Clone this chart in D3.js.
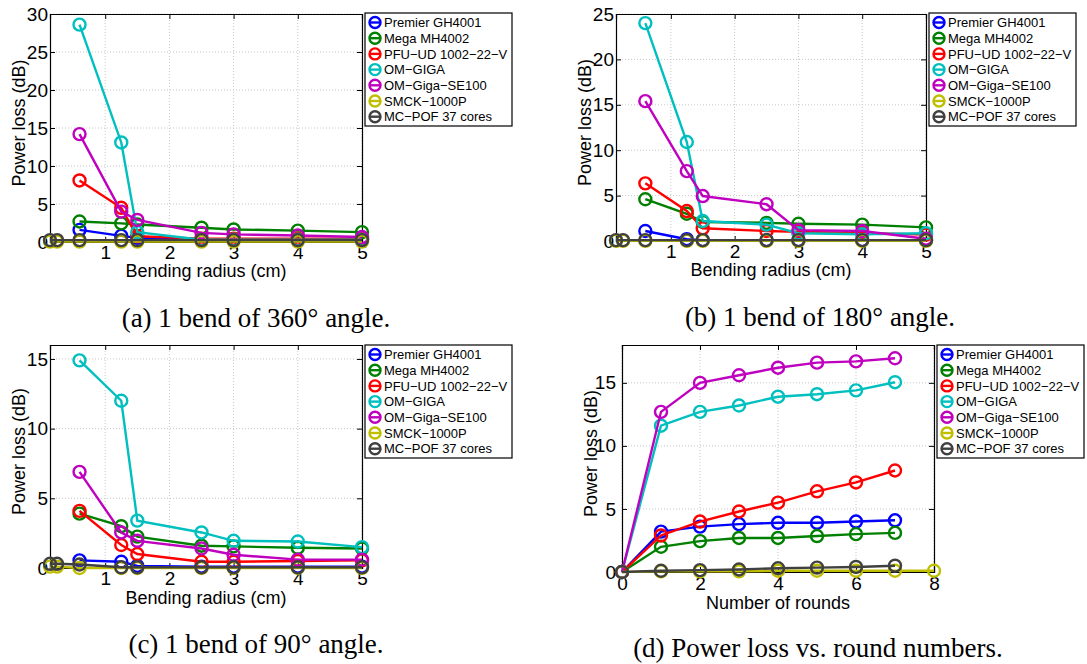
<!DOCTYPE html>
<html>
<head>
<meta charset="utf-8">
<title>Power loss of POF under bending</title>
<script src="https://cdn.jsdelivr.net/npm/d3@7"></script>
<style>
body { margin: 0; background: #fff; }
svg text { font-family: "Liberation Sans", Arial, sans-serif; fill: #000; }
.caption { font-family: "Liberation Serif", "Times New Roman", serif; }
</style>
</head>
<body>
<script>
// series, in plotting order
var seriesNames = ["Premier GH4001", "Mega MH4002", "PFU\u2212UD 1002\u221222\u2212V", "OM\u2212GIGA",
                   "OM\u2212Giga\u2212SE100", "SMCK\u22121000P", "MC\u2212POF 37 cores"];
var seriesColors = ["#0000ff", "#008000", "#ff0000", "#00bfbf", "#bf00bf", "#bfbf00", "#404040"];

// x values
var radius = [0.6, 1.25, 1.5, 2.5, 3, 4, 5];
var radiusSmall = [0.14, 0.25, 0.6, 1.25, 1.5, 2.5, 3, 4, 5];
var rounds = [0, 1, 2, 3, 4, 5, 6, 7];
var roundsLong = [0, 1, 2, 3, 4, 5, 6, 7, 8];

// (a) 1 bend of 360 deg
var a360 = [
  [1.6, 0.8, 0.55, 0.35, 0.35, 0.35, 0.35],
  [2.7, 2.45, 2.3, 1.88, 1.65, 1.5, 1.3],
  [8.1, 4.5, 0.75, 0.45, 0.45, 0.45, 0.45],
  [28.6, 13.1, 1.3, 0.3, 0.3, 0.3, 0.3],
  [14.2, 4.0, 2.9, 1.2, 1.0, 0.85, 0.65],
  [0.05, 0.05, 0.05, 0.05, 0.05, 0.05, 0.05, 0.05, 0.05],
  [0.25, 0.25, 0.25, 0.25, 0.25, 0.25, 0.25, 0.25, 0.25]
];
// (b) 1 bend of 180 deg
var b180 = [
  [1.1, 0.2, 0.1, 0.1, 0.1, 0.1, 0.1],
  [4.6, 3.0, 2.1, 2.0, 1.9, 1.8, 1.5],
  [6.35, 3.3, 1.4, 1.1, 1.0, 0.9, 0.7],
  [24.0, 10.9, 2.2, 1.8, 0.85, 0.75, 0.85],
  [15.4, 7.7, 4.95, 4.05, 1.2, 1.1, 0.25],
  [0.02, 0.02, 0.02, 0.02, 0.02, 0.02, 0.02, 0.02, 0.02],
  [0.1, 0.1, 0.1, 0.1, 0.1, 0.1, 0.1, 0.1, 0.1]
];
// (c) 1 bend of 90 deg
var c90 = [
  [0.55, 0.45, 0.15, 0.1, 0.1, 0.1, 0.1],
  [3.9, 3.0, 2.25, 1.6, 1.55, 1.45, 1.4],
  [4.1, 1.65, 1.0, 0.45, 0.45, 0.5, 0.55],
  [14.9, 12.0, 3.4, 2.55, 1.95, 1.9, 1.5],
  [6.9, 2.55, 1.95, 1.4, 0.95, 0.6, 0.6],
  [0.1, 0.1, 0.0, 0.0, 0.0, 0.0, 0.0, 0.0, 0.0],
  [0.3, 0.3, 0.25, 0.05, 0.05, 0.05, 0.05, 0.05, 0.05]
];
// (d) power loss vs rounds
var dRounds = [
  [0, 3.2, 3.6, 3.8, 3.9, 3.9, 4.0, 4.1],
  [0, 2.0, 2.45, 2.7, 2.7, 2.85, 3.0, 3.1],
  [0, 2.9, 4.0, 4.8, 5.5, 6.4, 7.1, 8.05],
  [0, 11.6, 12.7, 13.2, 13.9, 14.1, 14.4, 15.05],
  [0, 12.7, 15.0, 15.6, 16.2, 16.6, 16.7, 16.95],
  [0, 0.05, 0.05, 0.05, 0.1, 0.1, 0.1, 0.1, 0.1],
  [0, 0.1, 0.15, 0.2, 0.3, 0.35, 0.4, 0.5]
];

var bendX = [radius, radius, radius, radius, radius, radiusSmall, radiusSmall];
var roundX = [rounds, rounds, rounds, rounds, rounds, roundsLong, rounds];
var radiusTicks = [1, 2, 3, 4, 5];
var roundTicks = [0, 2, 4, 6, 8];

var panels = [
  {box: [50, 14, 362, 242], xd: [0.14, 5], yd: [0, 30], yt: [0, 5, 10, 15, 20, 25, 30], xt: radiusTicks,
   xs: bendX, ys: a360, xlab: "Bending radius (cm)", cap: "(a) 1 bend of 360\u00b0 angle.", leg: [365, 13], cx: 256, pad: 3, ypad: 2, lab: 35},
  {box: [616, 14, 926, 241], xd: [0.14, 5], yd: [0, 25], yt: [0, 5, 10, 15, 20, 25], xt: radiusTicks,
   xs: bendX, ys: b180, xlab: "Bending radius (cm)", cap: "(b) 1 bend of 180\u00b0 angle.", leg: [929, 13], cx: 820, pad: 3, ypad: 2, lab: 35},
  {box: [50, 345, 362, 568], xd: [0.14, 5], yd: [0, 16], yt: [0, 5, 10, 15], xt: radiusTicks,
   xs: bendX, ys: c90, xlab: "Bending radius (cm)", cap: "(c) 1 bend of 90\u00b0 angle.", leg: [365, 345], cx: 256, pad: 4, ypad: 2, lab: 36},
  {box: [622, 345, 934, 572], xd: [0, 8], yd: [0, 18], yt: [0, 5, 10, 15], xt: roundTicks,
   xs: roundX, ys: dRounds, xlab: "Number of rounds", cap: "(d) Power loss vs. round numbers.", leg: [937, 345], cx: 818, pad: 5, ypad: 6, lab: 37}
];

var W = 1087, H = 664;
var svg = d3.select("body").append("svg").attr("width", W).attr("height", H);

panels.forEach(function(p, pi) {
  var x0 = p.box[0], y0 = p.box[1], x1 = p.box[2], y1 = p.box[3];
  var x = d3.scaleLinear().domain(p.xd).range([x0, x1]);
  var y = d3.scaleLinear().domain(p.yd).range([y1, y0]);
  var g = svg.append("g");

  // grid
  g.selectAll(".gx").data(p.xt).enter().append("line")
    .attr("x1", x).attr("x2", x).attr("y1", y0).attr("y2", y1)
    .attr("stroke", "#c8c8c8").attr("stroke-dasharray", "1,2");
  g.selectAll(".gy").data(p.yt).enter().append("line")
    .attr("x1", x0).attr("x2", x1).attr("y1", y).attr("y2", y)
    .attr("stroke", "#c8c8c8").attr("stroke-dasharray", "1,2");

  // axes: ticks point inward, box on
  var tk = 5;
  g.append("g").attr("transform", "translate(0," + y1 + ")")
    .call(d3.axisBottom(x).tickValues(p.xt).tickSize(-tk).tickPadding(p.pad).tickFormat(d3.format("d")));
  g.append("g").attr("transform", "translate(0," + y0 + ")")
    .call(d3.axisTop(x).tickValues(p.xt).tickSize(-tk).tickFormat(""));
  g.append("g").attr("transform", "translate(" + x0 + ",0)")
    .call(d3.axisLeft(y).tickValues(p.yt).tickSize(-tk).tickPadding(p.ypad).tickFormat(d3.format("d")));
  g.append("g").attr("transform", "translate(" + x1 + ",0)")
    .call(d3.axisRight(y).tickValues(p.yt).tickSize(-tk).tickFormat(""));
  g.selectAll(".domain").attr("stroke", "#000").attr("stroke-width", 1.2);
  g.selectAll(".tick line").attr("stroke", "#000");
  g.selectAll(".tick text").attr("font-size", 19).attr("font-family", "Liberation Sans, Arial, sans-serif").attr("fill", "#000");

  // axis labels
  g.append("text").attr("x", (x0 + x1) / 2).attr("y", y1 + p.lab)
    .attr("text-anchor", "middle").attr("font-size", 18).text(p.xlab);
  g.append("text").attr("transform", "translate(" + (x0 - 25) + "," + ((y0 + y1) / 2 - 5) + ") rotate(-90)")
    .attr("text-anchor", "middle").attr("font-size", 18).text("Power loss (dB)");

  // series
  var line = d3.line().x(function(d) { return x(d[0]); }).y(function(d) { return y(d[1]); });
  p.ys.forEach(function(vals, si) {
    var pts = vals.map(function(v, i) { return [p.xs[si][i], v]; });
    var sg = g.append("g");
    sg.append("path").datum(pts).attr("d", line).attr("fill", "none")
      .attr("stroke", seriesColors[si]).attr("stroke-width", 2.4);
    sg.selectAll("circle").data(pts).enter().append("circle")
      .attr("cx", function(d) { return x(d[0]); }).attr("cy", function(d) { return y(d[1]); })
      .attr("r", 6).attr("fill", "none").attr("stroke", seriesColors[si]).attr("stroke-width", 2.4);
  });

  // legend
  var lx = p.leg[0], ly = p.leg[1], lw = 147, lh = 113;
  var clipId = "legclip" + pi;
  svg.append("clipPath").attr("id", clipId).append("rect")
    .attr("x", lx).attr("y", ly).attr("width", lw).attr("height", lh);
  var lg = svg.append("g");
  lg.append("rect").attr("x", lx).attr("y", ly).attr("width", lw).attr("height", lh)
    .attr("fill", "#fff").attr("stroke", "#000").attr("stroke-width", 1.2);
  var items = lg.append("g").attr("clip-path", "url(#" + clipId + ")")
    .selectAll("g").data(seriesNames).enter().append("g")
    .attr("transform", function(d, i) { return "translate(" + (lx + 10) + "," + (ly + 9.5 + i * 15.7) + ")"; });
  items.append("line").attr("x1", -6).attr("x2", 6).attr("stroke", function(d, i) { return seriesColors[i]; })
    .attr("stroke-width", 2.4);
  items.append("circle").attr("r", 5.5).attr("fill", "none")
    .attr("stroke", function(d, i) { return seriesColors[i]; }).attr("stroke-width", 2.4);
  items.append("text").attr("x", 9).attr("dy", "0.36em").attr("font-size", 13).text(function(d) { return d; });

  // caption
  svg.append("text").attr("class", "caption").attr("x", p.cx)
    .attr("y", y1 + 85).attr("text-anchor", "middle").attr("font-size", 27).text(p.cap);
});
</script>
</body>
</html>
